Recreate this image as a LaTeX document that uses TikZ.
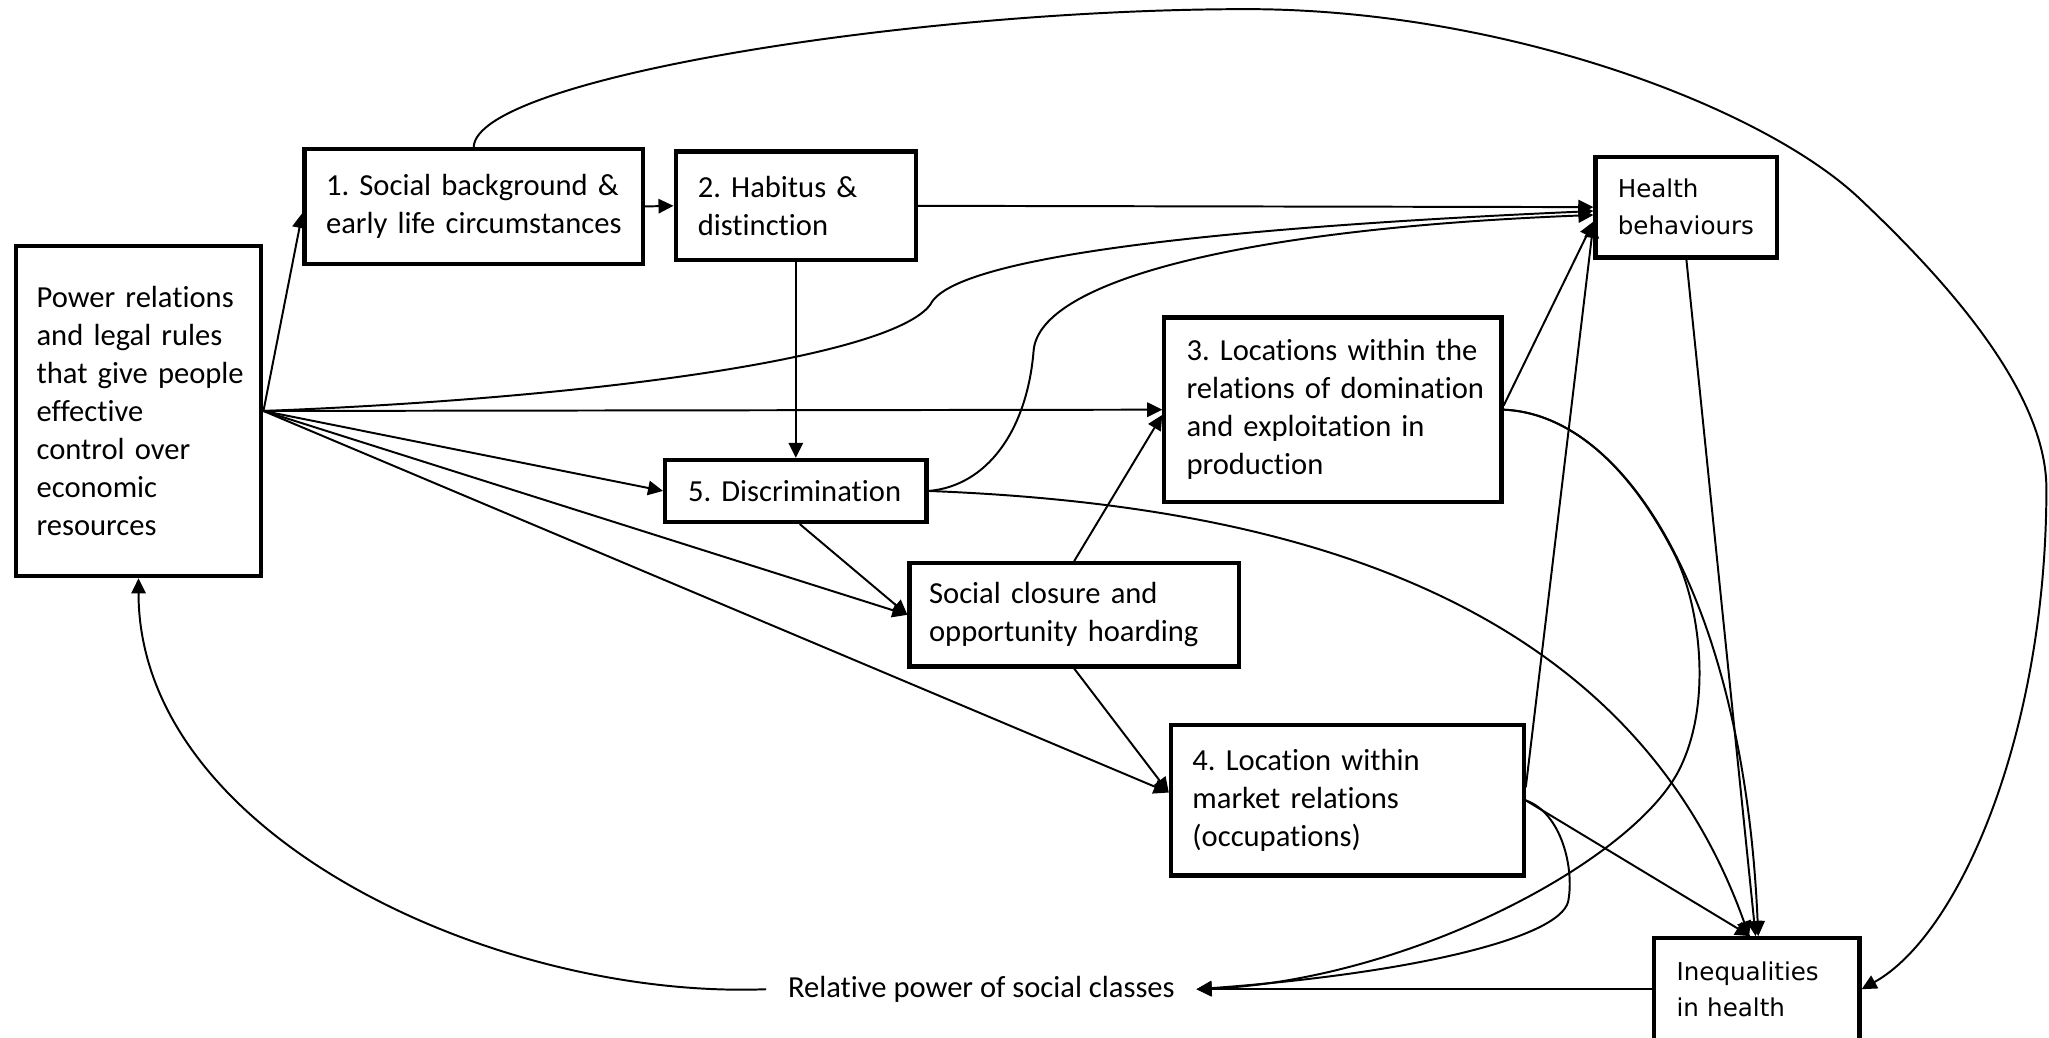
\documentclass[tikz,border=0pt]{standalone}
\usepackage{fontspec}
\setmainfont{Carlito}[Ligatures=NoCommon]
\newfontfamily\hbfont{DejaVu Sans}
\usetikzlibrary{arrows.meta}
\frenchspacing
\begin{document}
\begin{tikzpicture}[x=1pt,y=-1pt,
  box/.style={draw, line width=3.2pt, rectangle, align=left, inner ysep=0pt,
    font=\fontsize{23.4}{29}\selectfont},
  hbox/.style={box, font=\hbfont\fontsize{18.8}{28}\selectfont},
  conn/.style={line width=1.5pt, -{Triangle[length=11.5pt,width=11pt]}},
  lbl/.style={font=\fontsize{23.4}{29}\selectfont, inner xsep=16.5pt, inner ysep=0pt}
]
\useasboundingbox (0,0) rectangle (1568,794);
\clip (0,0) rectangle (1568,794);

% boxes
\node[box, minimum width=188pt, minimum height=253pt, text width=156pt, inner xsep=16pt] (power) at (106,314.5)
  {\mbox{Power relations}\\\mbox{and legal rules}\\\mbox{that give people}\\effective\\\mbox{control over}\\economic\\resources};
\node[box, minimum width=259pt, minimum height=88pt, text width=226pt, inner xsep=16.5pt] (n1) at (362.5,158)
  {\mbox{1. Social background \&}\\\mbox{early life circumstances}};
\node[box, minimum width=184pt, minimum height=83pt, text width=150pt, inner xsep=17pt] (n2) at (609,157.5)
  {\mbox{2. Habitus \&}\\distinction};
\node[hbox, minimum width=139pt, minimum height=77pt, text width=105pt, inner xsep=17pt] (hb) at (1290.5,158.5)
  {Health\\\mbox{behaviours}};
\node[box, minimum width=258pt, minimum height=141pt, text width=224pt, inner xsep=17pt] (n3) at (1020,313.5)
  {\mbox{3. Locations within the}\\\mbox{relations of domination}\\\mbox{and exploitation in}\\production};
\node[box, minimum width=200pt, minimum height=47.5pt, text width=165pt, inner xsep=17.5pt] (n5) at (609,375.7)
  {\mbox{5. Discrimination}};
\node[box, minimum width=252pt, minimum height=79pt, text width=222pt, inner xsep=15pt] (sc) at (822,470.5)
  {\mbox{Social closure and}\\\mbox{opportunity hoarding}};
\node[box, minimum width=270pt, minimum height=115pt, text width=237pt, inner xsep=16.5pt] (n4) at (1031,612.5)
  {\mbox{4. Location within}\\\mbox{market relations}\\(occupations)};
\node[hbox, minimum width=157pt, minimum height=78pt, text width=123pt, inner xsep=17pt] (ineq) at (1344.5,757)
  {\mbox{Inequalities}\\\mbox{in health}};
\node[lbl] (relpow) at (751,757) {Relative power of social classes};

% connectors
\draw[conn] (power.east) -- ([yshift=-5pt]n1.west);
\draw[conn] (n1.east) -- (n2.west);
\draw[conn] (n2.east) -- (hb.west);
\draw[conn] (n2.south) -- (n5.north);
\draw[conn] (power.east) .. controls (450,305) and (682,274) .. (712,233)
  .. controls (722,212) and (800,180) .. ([yshift=-3pt]hb.west);
\draw[conn] (power.east) -- (n3.west);
\draw[conn] (power.east) -- (n5.west);
\draw[conn] (power.east) -- (sc.west);
\draw[conn] (power.east) -- ([yshift=6pt]n4.west);
\draw[conn] ([xshift=3pt]n5.south) -- (sc.west);
\draw[conn] (sc.north) -- ([yshift=-4pt]n3.west);
\draw[conn] (sc.south) -- ([yshift=6pt]n4.west);
\draw[conn] (n5.east) .. controls (755,372) and (786,330) .. (791,268)
  .. controls (796,215) and (950,175) .. ([yshift=-6pt]hb.west);
\draw[conn] (n5.east) .. controls (950,385) and (1240,440) .. ([xshift=-6pt]ineq.north);
\draw[conn] ([yshift=3pt]n3.east) -- ([yshift=-11pt]hb.west);
\draw[conn] (n3.east) .. controls (1250,318) and (1335,470) .. ([xshift=1pt]ineq.north);
\draw[conn] (n3.east) .. controls (1200,315.5) and (1246.25,354.75) .. (1281.4,424.1)
  .. controls (1300,461) and (1311,535) .. (1286,587)
  .. controls (1253,657) and (1080,750) .. (relpow.east);
\draw[conn] ([yshift=10pt]n4.east) -- ([yshift=-12pt]hb.west);
\draw[conn] (n4.east) -- ([xshift=-5pt]ineq.north);
\draw[conn] (n4.east) .. controls (1195,622) and (1205,665) .. (1200,690)
  .. controls (1193,718) and (1080,745) .. (relpow.east);
\draw[conn] (hb.south) -- ([xshift=-1pt]ineq.north);
\draw[conn] (ineq.west) -- (relpow.east);
\draw[conn] (relpow.west) .. controls (380,765) and (106,640) .. (power.south);
\draw[conn] (n1.north) .. controls (365,60) and (700,7) .. (954,7)
  .. controls (1150,7) and (1347,81) .. (1422,151)
  .. controls (1490,215) and (1566,300) .. (1566,374)
  .. controls (1566,560) and (1500,715) .. (ineq.east);
\end{tikzpicture}
\end{document}
